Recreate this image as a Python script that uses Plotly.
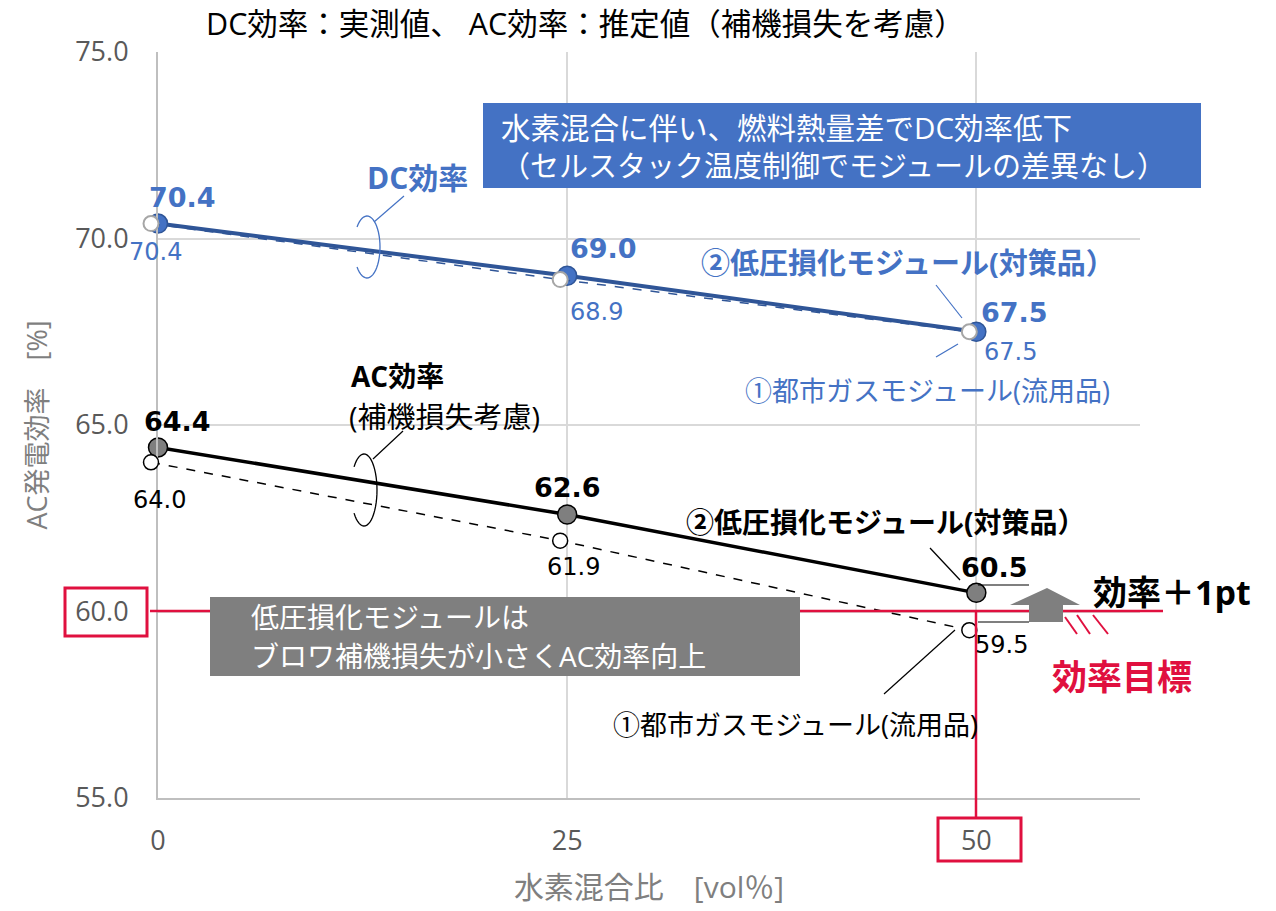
import math
import plotly.graph_objects as go

# ---------------- data ----------------
x_ratio = [0, 25, 50]
dc_low = [70.4, 69.0, 67.5]     # ② 低圧損化モジュール (DC)
dc_city = [70.4, 68.9, 67.5]    # ① 都市ガスモジュール (DC)
ac_low = [64.4, 62.6, 60.5]     # ② 低圧損化モジュール (AC)
ac_city = [64.0, 61.9, 59.5]    # ① 都市ガスモジュール (AC)
x_ticks = [0, 25, 50]
y_ticks = [55, 60, 65, 70, 75]
target = 60.0

W, H = 1276, 911
PL = 151                      # paper left (margin)
L, R, T, B = 158, 1140, 52, 798   # main plot area in pixels
XR = [0, 60]
YR = [55, 75]

def PX(px):
    return (px - PL) / (R - PL)

def PY(py):
    return (B - py) / (B - T)

BLUE = "#4472c4"
DBLUE = "#2f5597"
RED = "#e0103f"
GRAY = "#7f7f7f"
JP = "Open Sans, Noto Sans CJK JP"
NUM = "DejaVu Sans"

fig = go.Figure()

# ② DC
fig.add_trace(go.Scatter(
    x=x_ratio, y=dc_low, mode="lines+markers",
    line=dict(color=DBLUE, width=4),
    marker=dict(size=19, color=BLUE, line=dict(color=DBLUE, width=1.5)),
    cliponaxis=False))
# ② AC
fig.add_trace(go.Scatter(
    x=x_ratio, y=ac_low, mode="lines+markers",
    line=dict(color="black", width=3.5),
    marker=dict(size=19, color=GRAY, line=dict(color="black", width=1.5)),
    cliponaxis=False))
# ① DC (own subplot, drawn slightly left like the original)
fig.add_trace(go.Scatter(
    x=x_ratio, y=dc_city, mode="lines+markers", xaxis="x2", yaxis="y2",
    line=dict(color=DBLUE, width=1.5, dash="dash"),
    marker=dict(size=15, color="white", line=dict(color="#a6a6a6", width=2)),
    cliponaxis=False))
# ① AC
fig.add_trace(go.Scatter(
    x=x_ratio, y=ac_city, mode="lines+markers", xaxis="x2", yaxis="y2",
    line=dict(color="black", width=1.5, dash="dash"),
    marker=dict(size=15, color="white", line=dict(color="black", width=1.5)),
    cliponaxis=False))

shapes = []
ann = []

def line(x0, y0, x1, y1, color, width=1.2):
    shapes.append(dict(type="line", xref="paper", yref="paper",
                       x0=PX(x0), y0=PY(y0), x1=PX(x1), y1=PY(y1),
                       line=dict(color=color, width=width), layer="above"))

def rect(x0, y0, x1, y1, fill=None, color=None, width=0, layer="above"):
    shapes.append(dict(type="rect", xref="paper", yref="paper",
                       x0=PX(x0), y0=PY(y0), x1=PX(x1), y1=PY(y1),
                       fillcolor=fill if fill else "rgba(0,0,0,0)",
                       line=dict(color=color if color else "rgba(0,0,0,0)", width=width),
                       layer=layer))

def text(px, py, s, size, color="black", bold=False, family=JP, xanchor="center"):
    ann.append(dict(xref="paper", yref="paper", x=PX(px), y=PY(py),
                    text=f"<b>{s}</b>" if bold else s, showarrow=False,
                    xanchor=xanchor, yanchor="middle", borderpad=0,
                    font=dict(family=family, size=size, color=color)))

def dlabel(xv, yv, dx, dy, size, color, bold=False):
    s = f"{yv:.1f}"
    ann.append(dict(xref="x", yref="y", x=xv, y=yv, xshift=dx, yshift=dy,
                    text=f"<b>{s}</b>" if bold else s, showarrow=False,
                    xanchor="center", yanchor="middle",
                    font=dict(family=NUM, size=size, color=color)))

def arc(cx, cy, rx, ry, color):
    pts = []
    for i in range(41):
        t = math.radians(140 - i * (280 / 40))
        pts.append((cx + rx * math.cos(t), cy - ry * math.sin(t)))
    p = "M " + " L ".join(f"{PX(a):.5f},{PY(b):.5f}" for a, b in pts)
    shapes.append(dict(type="path", xref="paper", yref="paper", path=p,
                       line=dict(color=color, width=1.3), layer="above"))

# target lines (red)
line(150, 611, 1163, 611, RED, 2.5)
line(976, 611, 976, 818, RED, 2.5)
rect(65, 588, 147, 636, color=RED, width=3)
rect(938, 818, 1021, 861, color=RED, width=3)
# hatch marks
line(1065, 617, 1077, 634, RED, 2)
line(1077, 615, 1090, 634, RED, 2)
line(1093, 615, 1108, 634, RED, 2)

# gray box
rect(210, 597, 800, 676, fill=GRAY)
text(250, 617, "低圧損化モジュールは", 28, "white", xanchor="left")
text(250, 656, "ブロワ補機損失が小さくAC効率向上", 28, "white", xanchor="left")

# blue box
rect(483, 103, 1201, 188, fill=BLUE)
text(500, 128, "水素混合に伴い、燃料熱量差でDC効率低下", 29.5, "white", xanchor="left")
text(500, 165, "（セルスタック温度制御でモジュールの差異なし）", 29, "white", xanchor="left")

# gray arrow
shapes.append(dict(type="path", xref="paper", yref="paper",
                   path=(f"M {PX(1029)},{PY(622)} L {PX(1063)},{PY(622)} L {PX(1063)},{PY(605)} "
                         f"L {PX(1080)},{PY(605)} L {PX(1047)},{PY(588)} L {PX(1010)},{PY(605)} "
                         f"L {PX(1029)},{PY(605)} Z"),
                   fillcolor=GRAY, line=dict(color=GRAY, width=0), layer="above"))
text(1172, 592, "効率＋1pt", 34, "black", bold=True)
text(1122, 676, "効率目標", 35, RED, bold=True)

# ellipses & leaders
arc(367, 247, 13, 31, BLUE)
line(374, 222, 404, 196, BLUE)
text(417, 177, "DC効率", 30, BLUE, bold=True)
arc(364, 490, 13, 36, "black")
line(373, 459, 403, 431, "black")
text(350, 376, "AC効率", 28, "black", bold=True, xanchor="left")
text(348, 416, "(補機損失考慮)", 29, "black", xanchor="left")

# module labels
text(908, 262, "②低圧損化モジュール(対策品）", 29, BLUE, bold=True)
line(936, 285, 962, 318, BLUE)
text(927, 390, "①都市ガスモジュール(流用品)", 27, BLUE)
line(936, 357, 958, 344, BLUE)
text(886, 522, "②低圧損化モジュール(対策品）", 28, "black", bold=True)
line(930, 548, 960, 580, "black")
text(795, 724, "①都市ガスモジュール(流用品)", 27, "black")
line(884, 694, 955, 630, "black")

# data labels
for xv, yv, dx, dy in zip(x_ratio, dc_low, [24, 36, 38], [26, 27, 19]):
    dlabel(xv, yv, dx, dy, 27, BLUE, bold=True)
for xv, yv, dx, dy in zip(x_ratio, dc_city, [-3, 29, 34], [-28, -32, -20]):
    dlabel(xv, yv, dx, dy, 24, BLUE)
for xv, yv, dx, dy in zip(x_ratio, ac_low, [19, 0, 18], [26, 27, 25]):
    dlabel(xv, yv, dx, dy, 27, "black", bold=True)
for xv, yv, dx, dy in zip(x_ratio, ac_city, [1, 6, 25], [-38, -26, -15]):
    dlabel(xv, yv, dx, dy, 24, "black")
line(978, 585, 1029, 585, "black")
line(978, 622, 1029, 622, "black")

# title
text(585, 23, "DC効率：実測値、 AC効率：推定値（補機損失を考慮）", 30.5, "black")

off = (L - PL) / (R - PL)

fig.update_layout(
    width=W, height=H, margin=dict(l=PL, r=W - R, t=T, b=H - B),
    paper_bgcolor="white", plot_bgcolor="rgba(0,0,0,0)", showlegend=False,
    font=dict(family=JP),
    xaxis=dict(domain=[off, 1], anchor="y", range=XR, tickvals=x_ticks,
               ticktext=[str(v) for v in x_ticks],
               showgrid=True, gridcolor="#d9d9d9", gridwidth=1.5,
               showline=True, linecolor="#bfbfbf", linewidth=2, zeroline=False,
               ticks="", ticklabelstandoff=18,
               tickfont=dict(family=JP, size=27, color="#595959"),
               title=dict(text="水素混合比　[vol％]", standoff=20,
                          font=dict(family=JP, size=30, color="#7f7f7f"))),
    yaxis=dict(domain=[0, 1], anchor="x", range=YR, tickvals=y_ticks,
               ticktext=[f"{v:.1f}" for v in y_ticks],
               showgrid=True, gridcolor="#d9d9d9", gridwidth=1.5,
               showline=True, linecolor="#bfbfbf", linewidth=2, zeroline=False,
               ticks="", ticklabelstandoff=22,
               tickfont=dict(family=JP, size=27, color="#595959"),
               title=dict(text="AC発電効率　[%]", standoff=20,
                          font=dict(family=JP, size=27, color="#7f7f7f"))),
    xaxis2=dict(domain=[0, 1 - off], anchor="y2", range=XR, visible=False),
    yaxis2=dict(domain=[0, 1], anchor="x2", range=YR, visible=False),
    shapes=shapes, annotations=ann,
)

fig.write_html("out.html")
